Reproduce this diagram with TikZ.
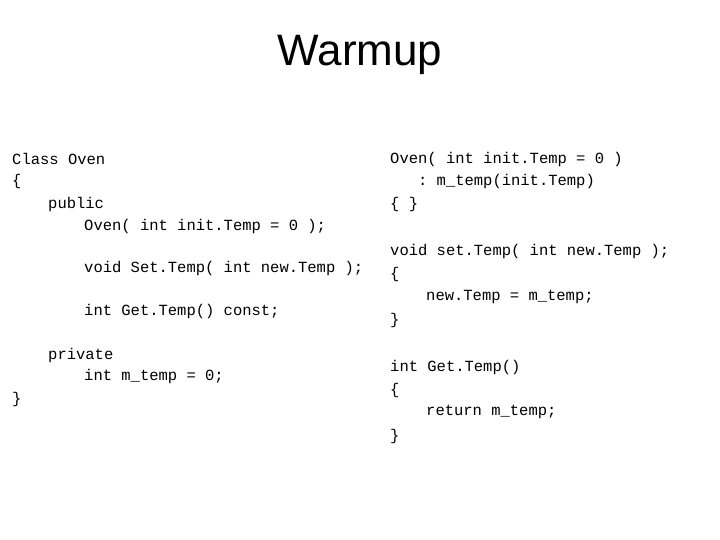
\documentclass[tikz,border=0pt]{standalone}
\usepackage{fontspec}
\setmainfont{Liberation Sans}
\setmonofont{Liberation Mono}
\usetikzlibrary{positioning}
\tikzset{
    code/.style = {anchor=west, inner sep=0pt, font=\ttfamily\fontsize{15.5}{18}\selectfont},
    title/.style = {font=\fontsize{44}{50}\selectfont}
}
\begin{document}
\begin{tikzpicture}[x=1pt, y=-1pt]
\useasboundingbox (0,0) rectangle (720,540);

% Title
\node [title] (T) at (360,55) {Warmup};

% Class declaration
\node [code] (L1) at (12,159) {Class Oven};
\node [code] (L2) at (12,181) {\{};
\node [code] (L3) at (48,204) {public};
\node [code] (L4) at (84,226) {Oven( int init.Temp = 0 );};
\node [code] (L5) at (84,268) {void Set.Temp( int new.Temp );};
\node [code] (L6) at (84,311) {int Get.Temp() const;};
\node [code] (L7) at (48,355) {private};
\node [code] (L8) at (84,376) {int m\_temp = 0;};
\node [code] (L9) at (12,399) {\}};

% Definitions
\node [code] (R1) at (390,159) {Oven( int init.Temp = 0 )};
\node [code] (R2) at (390,181) {~~~: m\_temp(init.Temp)};
\node [code] (R3) at (390,204) {\{ \}};
\node [code] (R4) at (390,251) {void set.Temp( int new.Temp );};
\node [code] (R5) at (390,274) {\{};
\node [code] (R6) at (426,297) {new.Temp = m\_temp;};
\node [code] (R7) at (390,320) {\}};
\node [code] (R8) at (390,367) {int Get.Temp()};
\node [code] (R9) at (390,390) {\{};
\node [code] (R10) at (426,412) {return m\_temp;};
\node [code] (R11) at (390,436) {\}};

\end{tikzpicture}
\end{document}
